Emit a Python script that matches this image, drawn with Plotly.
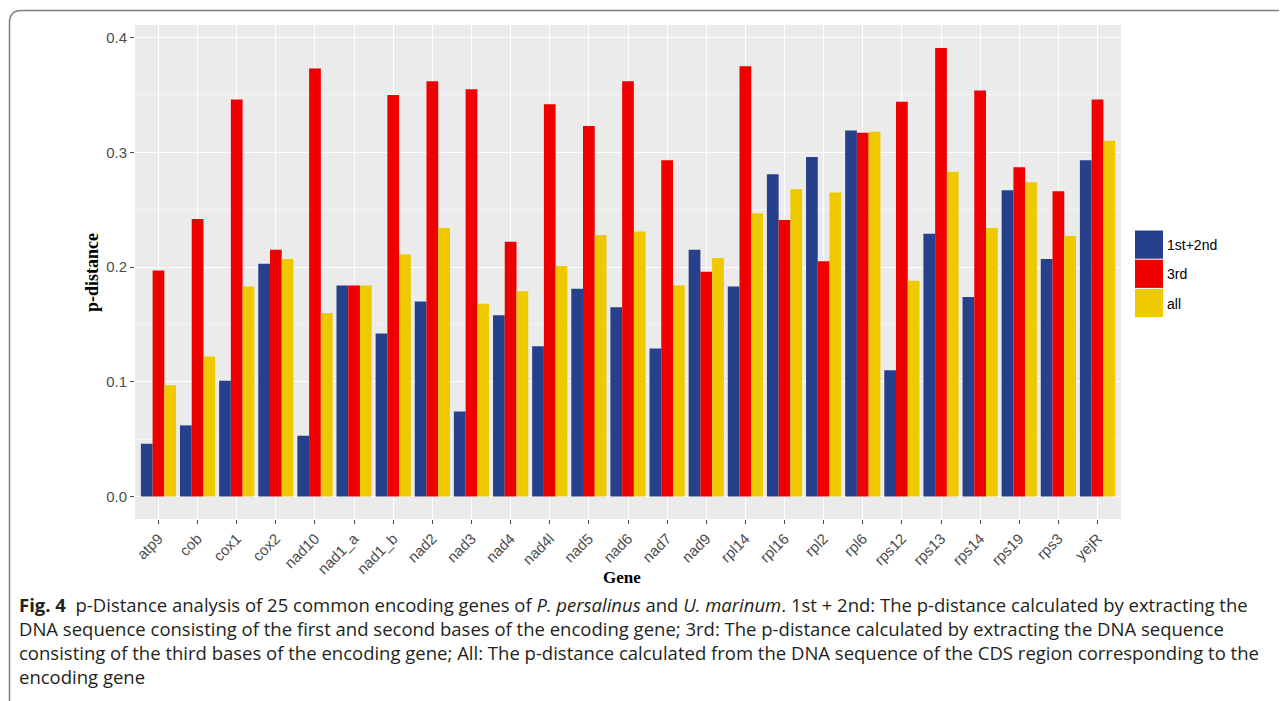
import plotly.graph_objects as go

genes = ["atp9", "cob", "cox1", "cox2", "nad10", "nad1_a", "nad1_b", "nad2", "nad3", "nad4",
         "nad4l", "nad5", "nad6", "nad7", "nad9", "rpl14", "rpl16", "rpl2", "rpl6", "rps12",
         "rps13", "rps14", "rps19", "rps3", "yejR"]

first_second = [0.046, 0.062, 0.101, 0.203, 0.053, 0.184, 0.142, 0.170, 0.074, 0.158,
                0.131, 0.181, 0.165, 0.129, 0.215, 0.183, 0.281, 0.296, 0.319, 0.110,
                0.229, 0.174, 0.267, 0.207, 0.293]
third = [0.197, 0.242, 0.346, 0.215, 0.373, 0.184, 0.350, 0.362, 0.355, 0.222,
         0.342, 0.323, 0.362, 0.293, 0.196, 0.375, 0.241, 0.205, 0.317, 0.344,
         0.391, 0.354, 0.287, 0.266, 0.346]
all_pos = [0.097, 0.122, 0.183, 0.207, 0.160, 0.184, 0.211, 0.234, 0.168, 0.179,
           0.201, 0.228, 0.231, 0.184, 0.208, 0.247, 0.268, 0.265, 0.318, 0.188,
           0.283, 0.234, 0.274, 0.227, 0.310]

series_names = ["1st+2nd", "3rd", "all"]
series_colors = ["#27408B", "#EE0000", "#EEC900"]
series_values = [first_second, third, all_pos]

# page has an 8px body margin; figure occupies page x 8..1287, y 8..701
OFF = 8
W, H = 1287 - OFF, 701 - OFF
L, R, T, B = 135 - OFF, 166, 25 - OFF, 182
pw, ph = W - L - R, H - T - B


def px(x):
    # x given in page pixels
    return (x - OFF - L) / pw


def py(y):
    # y given in page pixels
    return (H - B - (y - OFF)) / ph


fig = go.Figure()
for name, color, vals in zip(series_names, series_colors, series_values):
    fig.add_trace(go.Bar(x=genes, y=vals, name=name, marker=dict(color=color, line=dict(width=0)),
                         showlegend=False))

shapes = []
annotations = []

# manual legend with large keys
key_top = 230.5
key_h = 29.2
for i, (name, color) in enumerate(zip(series_names, series_colors)):
    y0 = key_top + i * key_h
    shapes.append(dict(type="rect", xref="paper", yref="paper",
                       x0=px(1135), x1=px(1163), y0=py(y0 + key_h - 1), y1=py(y0),
                       fillcolor=color, line=dict(width=0)))
    annotations.append(dict(text=name, xref="paper", yref="paper", x=px(1165), y=py(y0 + key_h / 2),
                            xanchor="left", yanchor="middle", showarrow=False,
                            font=dict(family="Liberation Sans, Arial", size=14, color="black")))

# rounded outer border
r = 12
x0b, y0b = 9.5, 10.5
path = (f"M {px(x0b)},{py(702)} L {px(x0b)},{py(y0b + r)} "
        f"Q {px(x0b)},{py(y0b)} {px(x0b + r)},{py(y0b)} L {px(1300)},{py(y0b)}")
shapes.append(dict(type="path", xref="paper", yref="paper", path=path,
                   line=dict(color="#7f7f7f", width=1.5)))

# axis titles
annotations.append(dict(text="<b>Gene</b>", xref="paper", yref="paper", x=px(622), y=py(577),
                        xanchor="center", yanchor="middle", showarrow=False,
                        font=dict(family="Liberation Serif, Times New Roman", size=17, color="black")))
annotations.append(dict(text="<b>p-distance</b>", xref="paper", yref="paper", x=px(92), y=py(273),
                        xanchor="center", yanchor="middle", showarrow=False, textangle=-90,
                        font=dict(family="Liberation Serif, Times New Roman", size=18, color="black")))

caption_lines = [
    "<b>Fig. 4</b>  p-Distance analysis of 25 common encoding genes of <i>P. persalinus</i> and <i>U. marinum</i>. "
    "1st + 2nd: The p-distance calculated by extracting the",
    "DNA sequence consisting of the first and second bases of the encoding gene; 3rd: The p-distance calculated by extracting the DNA sequence",
    "consisting of the third bases of the encoding gene; All: The p-distance calculated from the DNA sequence of the CDS region corresponding to the",
    "encoding gene",
]
for i, line in enumerate(caption_lines):
    annotations.append(dict(text=line, xref="paper", yref="paper", x=px(17), y=py(604 + i * 24),
                            xanchor="left", yanchor="middle", showarrow=False,
                            font=dict(family="Open Sans", size=18.5, color="#231f20")))

fig.update_layout(
    width=W, height=H,
    margin=dict(l=L, r=R, t=T, b=B, pad=0),
    paper_bgcolor="white", plot_bgcolor="#EBEBEB",
    barmode="group", bargap=0.1, bargroupgap=0,
    shapes=shapes, annotations=annotations,
    showlegend=False,
)
fig.update_xaxes(
    range=[-0.6, 24.6], showgrid=True, gridcolor="white", gridwidth=1.1,
    ticks="outside", ticklen=4, tickcolor="#4d4d4d", tickwidth=1,
    tickangle=-45, tickfont=dict(family="Liberation Sans, Arial", size=15, color="#4d4d4d"),
    zeroline=False, showline=False,
)
fig.update_yaxes(
    range=[-0.0196, 0.411], tickvals=[0, 0.1, 0.2, 0.3, 0.4], ticktext=["0.0", "0.1", "0.2", "0.3", "0.4"],
    showgrid=True, gridcolor="white", gridwidth=1.1,
    minor=dict(tickvals=[0.05, 0.15, 0.25, 0.35], showgrid=True, gridcolor="#F5F5F5", gridwidth=0.6),
    ticks="outside", ticklen=4, tickcolor="#4d4d4d", tickwidth=1,
    tickfont=dict(family="Liberation Sans, Arial", size=15, color="#4d4d4d"),
    zeroline=False, showline=False,
)

fig.write_html("out.html")
